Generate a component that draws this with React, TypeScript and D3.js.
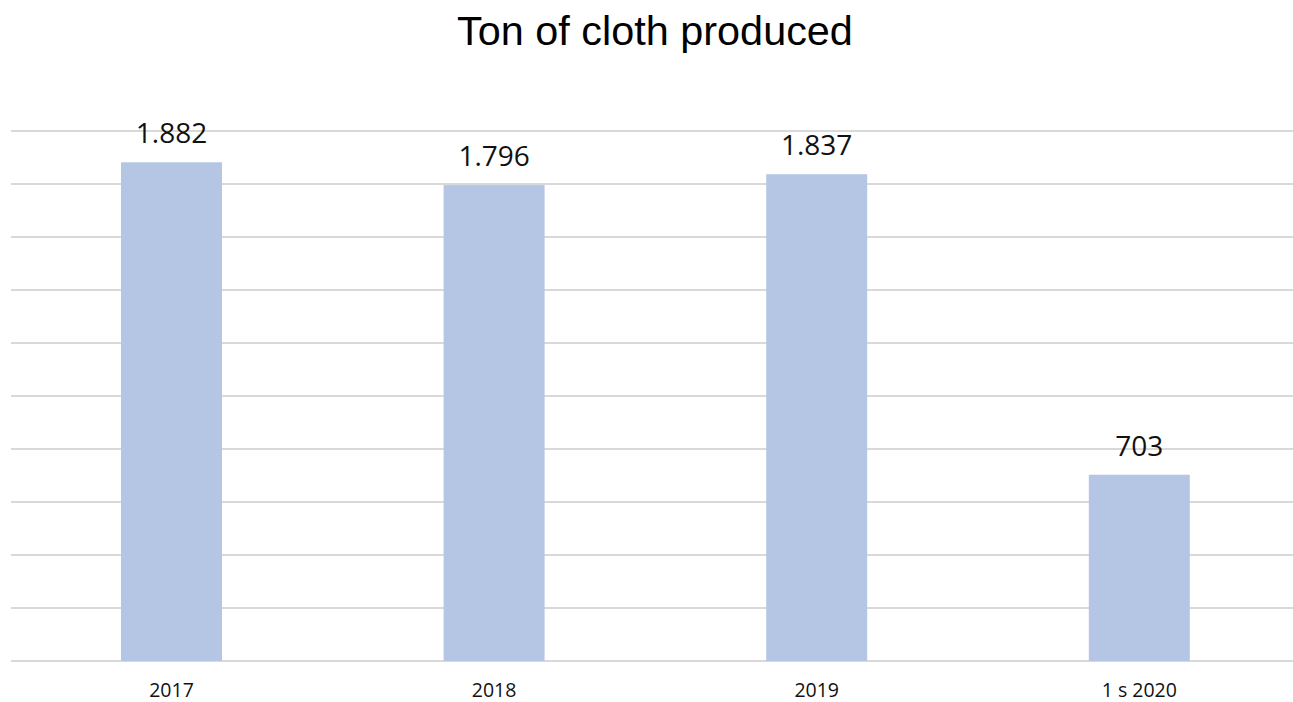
import React from "react";
import * as d3 from "d3";

const categories = ["2017", "2018", "2019", "1 s 2020"];
const values = [1882, 1796, 1837, 703];
const yTicks = [0, 200, 400, 600, 800, 1000, 1200, 1400, 1600, 1800, 2000];
const title = "Ton of cloth produced";

const W = 1293;
const H = 702;

export default function App() {
  const x = d3
    .scaleBand<string>()
    .domain(categories)
    .range([10.2, 1300.6])
    .paddingInner(0.687)
    .paddingOuter(0.3435);
  const y = d3.scaleLinear().domain([0, 2000]).range([661, 131]);
  const fmt = d3.formatLocale({ decimal: ",", thousands: ".", grouping: [3], currency: ["", ""] }).format(",d");

  return (
    <svg
      width={W}
      height={H}
      style={{ position: "absolute", left: 0, top: 0, background: "#fff" }}
    >
      <text
        x={655}
        y={45}
        textAnchor="middle"
        fontFamily="'Liberation Sans', Arial, sans-serif"
        fontSize={41.4}
        fill="#000"
      >
        {title}
      </text>
      {yTicks.map((t) => (
        <line
          key={t}
          x1={11}
          x2={W}
          y1={y(t)}
          y2={y(t)}
          stroke="#d9d9d9"
          strokeWidth={2}
        />
      ))}
      {categories.map((c, i) => (
        <g key={c}>
          <rect
            x={x(c)!}
            y={y(values[i])}
            width={x.bandwidth()}
            height={y(0) - y(values[i])}
            fill="#b5c6e4"
          />
          <text
            x={x(c)! + x.bandwidth() / 2}
            y={y(values[i]) - 19}
            textAnchor="middle"
            fontFamily="'Open Sans', sans-serif"
            fontSize={28}
            fill="#111"
          >
            {fmt(values[i])}
          </text>
          <text
            x={x(c)! + x.bandwidth() / 2}
            y={697}
            textAnchor="middle"
            fontFamily="'Open Sans', sans-serif"
            fontSize={19.5}
            fill="#111"
          >
            {c}
          </text>
        </g>
      ))}
    </svg>
  );
}
